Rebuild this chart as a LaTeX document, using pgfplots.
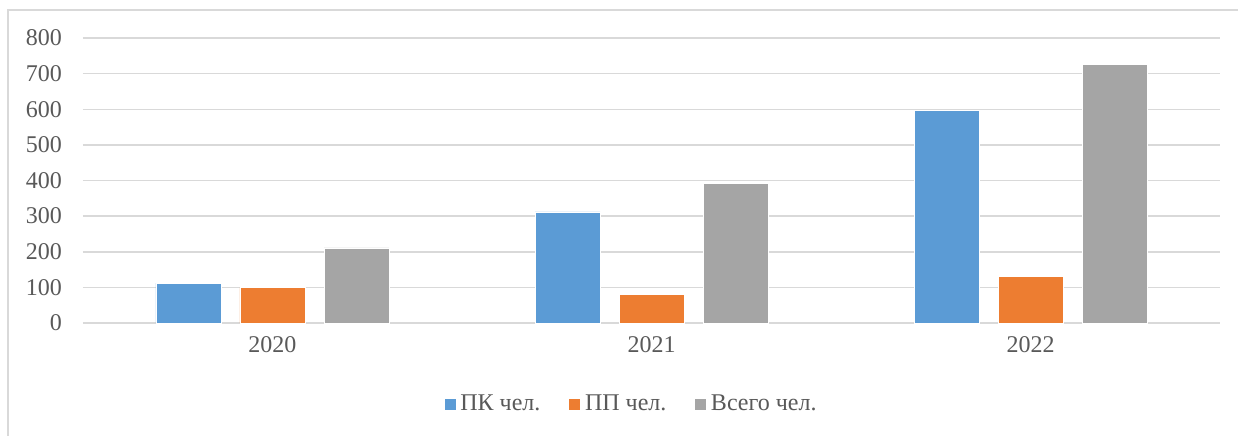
\documentclass[border=0pt]{standalone}
\usepackage{pgfplots}
\pgfplotsset{compat=1.18}
\usepackage{fontspec}
\setmainfont{Liberation Serif}
\definecolor{cblue}{RGB}{91,155,213}
\definecolor{corange}{RGB}{237,125,49}
\definecolor{cgray}{RGB}{165,165,165}
\definecolor{gridc}{RGB}{217,217,217}
\definecolor{txt}{RGB}{89,89,89}
\begin{document}
\begin{tikzpicture}
\useasboundingbox (-41.5pt,-56pt) rectangle (577.5pt,161.5pt);
\draw[gridc, line width=0.6pt] (-37.5pt,-60pt) -- (-37.5pt,156.5pt) -- (580pt,156.5pt);
\begin{axis}[
  scale only axis,
  width=568.5pt, height=142.5pt,
  at={(0,0)}, anchor=south west,
  ybar=9.5pt, bar width=32.5pt,
  xmin=-0.5, xmax=2.5,
  ymin=0, ymax=800,
  ytick={0,100,...,800},
  xtick=data,
  xticklabels={2020,2021,2022},
  axis line style={draw=none},
  major tick length=0pt,
  ymajorgrids,
  grid style={gridc, line width=0.75pt},
  tick label style={font=\fontsize{12}{14}\selectfont, text=txt},
  /pgf/number format/assume math mode=true,
  yticklabel style={xshift=-7pt},
  xticklabel style={yshift=-3pt},
  legend columns=3,
  legend style={draw=none, at={(0.483,-0.286)}, anchor=center,
    font=\fontsize{12}{14}\selectfont, text=txt,
    nodes={inner xsep=2pt},
    /tikz/every even column/.append style={column sep=12pt}},
  legend image code/.code={\fill[#1] (0pt,-3pt) rectangle (6pt,3pt);},
  clip=false,
]
\draw[gridc, line width=0.75pt] (axis cs:-0.5,0) -- (axis cs:2.5,0);
\addplot[fill=cblue, draw=white, line width=0.3pt] coordinates {(0,112) (1,312) (2,597)};
\addplot[fill=corange, draw=white, line width=0.3pt] coordinates {(0,99) (1,80) (2,130)};
\addplot[fill=cgray, draw=white, line width=0.3pt] coordinates {(0,211) (1,392) (2,727)};
\legend{ПК чел.,ПП чел.,Всего чел.}
\end{axis}
\end{tikzpicture}
\end{document}
